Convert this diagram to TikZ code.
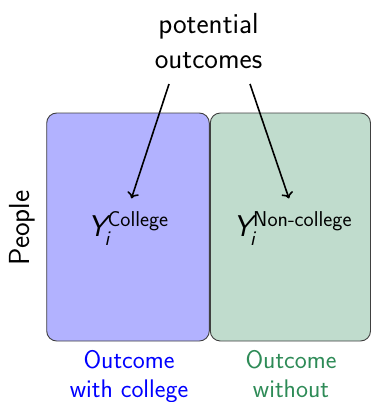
\documentclass[tikz,border=0pt]{standalone}
\renewcommand{\familydefault}{\sfdefault}
\usetikzlibrary{arrows.meta}
\definecolor{seagreen}{RGB}{46,139,87}
\newcommand{\potout}[1]{{\fontsize{30}{30}\selectfont\itshape Y}\hspace{-2pt}\rlap{\raisebox{-9pt}{\fontsize{21}{21}\selectfont\itshape i}}\hspace{3pt}\raisebox{10pt}{\fontsize{21.5}{21}\selectfont #1}}
\tikzset{
  panel/.style={draw=black!75, line width=0.9pt, rounded corners=10pt},
  bigtext/.style={font=\fontsize{29}{35}\selectfont, inner sep=0pt, align=center},
  labeltext/.style={font=\fontsize{25.5}{29}\selectfont, inner sep=0pt, align=center},
  ptr/.style={-{To[length=6pt,width=12pt]}, line width=1.6pt, shorten >=11pt}
}
\begin{document}
\begin{tikzpicture}[x=1pt,y=-1pt]
\useasboundingbox (0,0) rectangle (372,402);
\draw[panel, fill=blue!30] (46.7,113) rectangle (209.3,341);
\draw[panel, fill=seagreen!30] (210.3,113) rectangle (370.5,341);
\node[bigtext, anchor=base] (head) at (208.5,68) {potential\\outcomes};
\node[bigtext, rotate=90] (people) at (22,228) {People};
\node[bigtext, anchor=base, inner sep=2pt] (yc) at (128,236) {\potout{College}};
\node[bigtext, anchor=base, inner sep=2pt] (yn) at (292.5,236) {\potout{Non-college}};
\node[labeltext, text=blue, anchor=base] (lc) at (129,397) {Outcome\\with college};
\node[labeltext, text=seagreen, anchor=base] (ln) at (291,397) {Outcome\\without};
\coordinate (s1) at (169,84);
\coordinate (s2) at (250,84);
\draw[ptr] (s1) -- (yc.north);
\draw[ptr] (s2) -- (yn.north);
\end{tikzpicture}
\end{document}
